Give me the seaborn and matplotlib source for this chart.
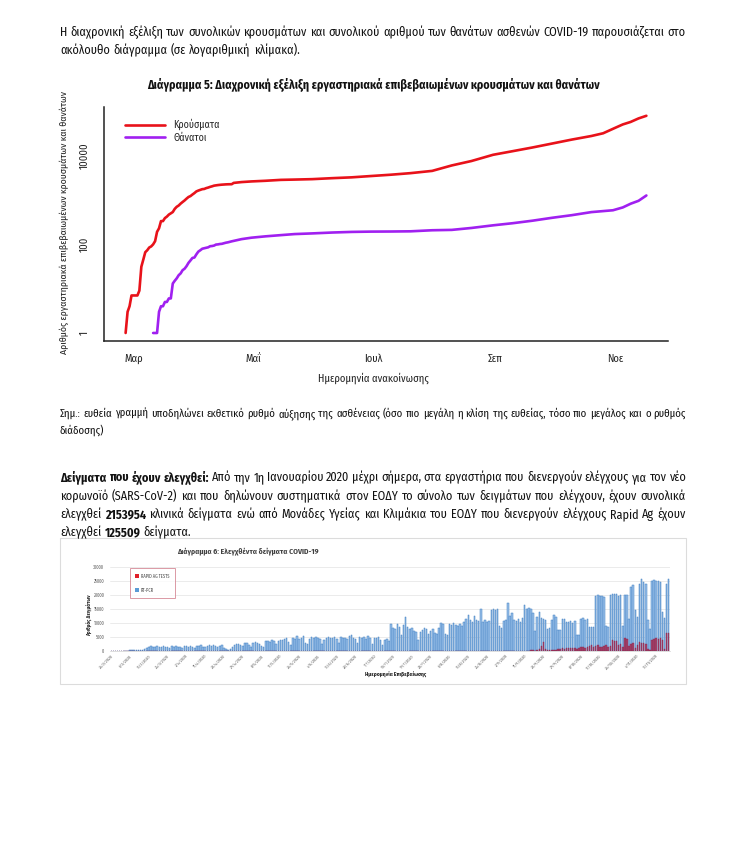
import pandas as pd
import seaborn as sns
from matplotlib import pyplot as plt
from matplotlib import font_manager
from matplotlib.patches import Rectangle, Patch

# ---------------- data ----------------
case_dates = ['2020-02-26', '2020-02-27', '2020-02-28', '2020-02-29', '2020-03-01', '2020-03-02', '2020-03-03',
              '2020-03-04', '2020-03-05', '2020-03-06', '2020-03-07', '2020-03-08', '2020-03-09', '2020-03-10',
              '2020-03-11', '2020-03-12', '2020-03-13', '2020-03-14', '2020-03-15', '2020-03-16', '2020-03-17',
              '2020-03-18', '2020-03-19', '2020-03-20', '2020-03-21', '2020-03-22', '2020-03-23', '2020-03-24',
              '2020-03-25', '2020-03-26', '2020-03-27', '2020-03-28', '2020-03-29', '2020-03-30', '2020-03-31',
              '2020-04-01', '2020-04-02', '2020-04-03', '2020-04-04', '2020-04-05', '2020-04-06', '2020-04-07',
              '2020-04-08', '2020-04-09', '2020-04-10', '2020-04-11', '2020-04-12', '2020-04-13', '2020-04-14',
              '2020-04-15', '2020-04-16', '2020-04-17', '2020-04-18', '2020-04-20', '2020-04-21', '2020-04-25',
              '2020-04-30', '2020-05-07', '2020-05-15', '2020-05-22', '2020-05-31', '2020-06-10', '2020-06-20',
              '2020-06-30', '2020-07-10', '2020-07-20', '2020-07-31', '2020-08-10', '2020-08-20', '2020-08-31',
              '2020-09-10', '2020-09-20', '2020-09-30', '2020-10-10', '2020-10-20', '2020-10-26', '2020-11-01',
              '2020-11-05', '2020-11-09', '2020-11-13', '2020-11-17']
case_values = [1, 3, 4, 7, 7, 7, 7,
               9, 31, 45, 66, 73, 84, 89,
               99, 117, 190, 228, 331, 331, 387,
               418, 464, 495, 530, 624, 695, 743,
               821, 892, 966, 1061, 1156, 1212, 1314,
               1415, 1544, 1613, 1673, 1735, 1755, 1832,
               1884, 1955, 2011, 2081, 2114, 2145, 2170,
               2192, 2207, 2224, 2235, 2245, 2401, 2506,
               2591, 2678, 2810, 2853, 2917, 3068, 3203,
               3432, 3672, 3983, 4477, 5942, 7472, 10317,
               12452, 15062, 18475, 22678, 27334, 31496, 41527,
               49807, 56698, 68001, 78000]

death_dates = ['2020-03-11', '2020-03-12', '2020-03-13', '2020-03-14', '2020-03-15', '2020-03-16', '2020-03-17',
               '2020-03-18', '2020-03-19', '2020-03-20', '2020-03-21', '2020-03-22', '2020-03-23', '2020-03-24',
               '2020-03-25', '2020-03-26', '2020-03-27', '2020-03-28', '2020-03-29', '2020-03-30', '2020-03-31',
               '2020-04-01', '2020-04-02', '2020-04-03', '2020-04-04', '2020-04-05', '2020-04-06', '2020-04-07',
               '2020-04-08', '2020-04-09', '2020-04-10', '2020-04-11', '2020-04-12', '2020-04-13', '2020-04-14',
               '2020-04-15', '2020-04-16', '2020-04-17', '2020-04-18', '2020-04-20', '2020-04-25', '2020-04-30',
               '2020-05-07', '2020-05-15', '2020-05-22', '2020-05-31', '2020-06-10', '2020-06-20', '2020-06-30',
               '2020-07-10', '2020-07-20', '2020-07-31', '2020-08-10', '2020-08-20', '2020-08-31', '2020-09-10',
               '2020-09-20', '2020-09-30', '2020-10-10', '2020-10-20', '2020-10-31', '2020-11-05', '2020-11-09',
               '2020-11-13', '2020-11-17']
death_values = [1, 1, 1, 3, 4, 4, 5,
                5, 6, 6, 13, 15, 17, 20,
                22, 26, 28, 32, 38, 43, 49,
                50, 59, 68, 73, 79, 81, 83,
                85, 90, 91, 93, 98, 99, 101,
                102, 105, 108, 110, 116, 130, 140,
                150, 160, 169, 175, 183, 189, 192,
                193, 195, 206, 210, 232, 266, 297,
                338, 393, 450, 528, 581, 673, 816,
                948, 1250]

month_ticks = ['2020-03-01', '2020-05-01', '2020-07-01', '2020-09-01', '2020-11-01']
month_labels = ['Μαρ', 'Μαΐ', 'Ιουλ', 'Σεπ', 'Νοε']

# daily samples, first day 26/2/2020
first_test_day = '2020-02-26'
pcr_tests = [20, 30, 40, 60, 50, 80, 100,
             120, 150, 180, 200, 250, 300, 280,
             350, 450, 600, 900, 1500, 1700, 1400,
             1600, 1700, 1500, 1300, 1800, 1600, 1400,
             1200, 1700, 1500, 1900, 1600, 1300, 1100,
             1800, 1700, 1500, 1900, 1400, 1200, 1700,
             1800, 2000, 1600, 1300, 1900, 2100, 1800,
             2300, 1900, 1500, 1800, 2200, 1000, 600,
             400, 700, 1500, 2200, 2400, 2600, 2100,
             1900, 2700, 3000, 2300, 1500, 2800, 3200,
             2900, 2600, 1700, 1500, 3400, 3600, 3300,
             3800, 3500, 2500, 3600, 4100, 3800, 4200,
             4500, 3300, 2200, 4600, 4200, 5200, 4300,
             4800, 5400, 3000, 2400, 4200, 4900, 4500,
             5000, 4700, 4300, 2600, 3800, 4600, 4900,
             4700, 4500, 5000, 4200, 3000, 5100, 4600,
             4800, 4300, 5300, 5600, 4700, 4300, 3000,
             5000, 4700, 4900, 4300, 5400, 4500, 2500,
             4800, 4600, 4900, 4000, 2100, 3800, 4300,
             3600, 9500, 8200, 8000, 9800, 8600, 5700,
             9200, 12000, 8400, 7800, 8200, 7200, 6800,
             4000, 6800, 7500, 8300, 7700, 6200, 7100,
             7800, 6600, 5900, 8100, 10000, 9600, 6000,
             5800, 9600, 9300, 10000, 9200, 8800, 9700,
             9000, 10500, 11500, 13000, 11000, 10200, 12500,
             11000, 10800, 15000, 10500, 11000, 10300, 10800,
             14800, 15000, 14600, 15100, 9000, 8200, 10800,
             11000, 17000, 12500, 13500, 11000, 10800, 11500,
             10500, 11700, 16400, 15000, 15200, 14900, 13500,
             7000, 12000, 14000, 11800, 11500, 11000, 8000,
             8200, 11000, 13000, 12200, 7500, 7600, 11500,
             11400, 10500, 10200, 10800, 9900, 10600, 5700,
             5800, 11500, 11800, 11200, 11600, 8700, 8600,
             8700, 19500, 20000, 19800, 19600, 19200, 9000,
             8700, 20000, 20400, 20500, 20200, 19800, 20000,
             9000, 20000, 20100, 11500, 23000, 23500, 14600,
             12000, 24000, 25700, 24500, 23800, 11000, 8000,
             25000, 25400, 25000, 25000, 24800, 14000, 11700,
             24000, 25600]
# rapid antigen tests, aligned to the last days of pcr_tests
rapid_tests = [300, 200, 0, 200, 600, 1800, 3300, 600,
               200, 300, 200, 300, 400,
               600, 700, 900, 800, 1000, 900, 1100, 1000, 1200, 800, 900, 1300, 1400, 1200, 1500, 1900, 2000, 1600,
               1800, 2100, 1500, 1300, 1900, 2000, 1400, 1700,
               3900, 3600, 3400, 2200, 2500, 1500, 4500, 4200, 1800,
               2500, 2800, 1000, 2000, 3300, 2700, 3000, 2400, 600, 500,
               4000, 4300, 4500, 4200, 4500, 4100, 800, 6300, 6300]
test_yticks = [0, 5000, 10000, 15000, 20000, 25000, 30000]

# ---------------- style ----------------
sns.set_theme(style='white')
installed = {f.name for f in font_manager.fontManager.ttflist}
candidates = ['Fira Sans Condensed', 'Roboto Condensed', 'Open Sans Condensed', 'Liberation Sans Narrow', 'Roboto']
body_font = next((c for c in candidates if c in installed), 'Liberation Sans')
plt.rcParams['font.family'] = [body_font, 'Liberation Sans', 'DejaVu Sans']

W, H = 740, 849
fig = plt.figure(figsize=(W / 100, H / 100), dpi=100)
fig.patch.set_facecolor('white')
renderer = fig.canvas.get_renderer()


def fx(x):
    return x / W


def fy(y):
    return 1 - y / H


def words_of(s, weight='normal'):
    return [(w, weight) for w in s.split()]


def measure(words, size):
    widths = []
    for w, wt in words:
        t = fig.text(0, 0, w, fontsize=size, fontweight=wt)
        widths.append(t.get_window_extent(renderer).width)
        t.remove()
    return widths


def fit_size(lines, size, min_gap=3.0, x0=60, x1=686):
    # shrink the font until every justified line fits with a readable gap
    scale = 1.0
    for words in lines:
        need = sum(measure(words, size)) + min_gap * (len(words) - 1)
        scale = min(scale, (x1 - x0) / need)
    return size * scale


def put_line(y, words, size, x0=60, x1=686, justify=True):
    # y is the baseline in pixels from the top
    widths = measure(words, size)
    if justify and len(words) > 1:
        gap = (x1 - x0 - sum(widths)) / (len(words) - 1)
    else:
        gap = size * 100 / 72 * 0.27
    x = x0
    for (w, wt), wd in zip(words, widths):
        fig.text(fx(x), fy(y), w, fontsize=size, fontweight=wt, va='baseline', ha='left', color='#111111')
        x += wd + gap


def sized_text(x, y, s, span, vertical=False, max_size=9.0, **kw):
    # pick the font size that makes the text cover `span` pixels, like the page does
    t = fig.text(fx(x), fy(y), s, fontsize=max_size, rotation=90 if vertical else 0,
                 ha='center', va='center', **kw)
    bb = t.get_window_extent(renderer)
    cur = bb.height if vertical else bb.width
    t.set_fontsize(min(max_size, max_size * span / cur))
    return t


# ---------------- page text ----------------
intro1 = words_of('Η διαχρονική εξέλιξη των συνολικών κρουσμάτων και συνολικού αριθμού των θανάτων ασθενών COVID-19 παρουσιάζεται στο')
intro2 = words_of('ακόλουθο διάγραμμα (σε λογαριθμική κλίμακα).')
note1 = words_of('Σημ.: ευθεία γραμμή υποδηλώνει εκθετικό ρυθμό αύξησης της ασθένειας (όσο πιο μεγάλη η κλίση της ευθείας, τόσο πιο μεγάλος και ο ρυθμός')
note2 = words_of('διάδοσης)')
par1 = words_of('Δείγματα που έχουν ελεγχθεί:', 'bold') + words_of('Από την 1η Ιανουαρίου 2020 μέχρι σήμερα, στα εργαστήρια που διενεργούν ελέγχους για τον νέο')
par2 = words_of('κορωνοϊό (SARS-CoV-2) και που δηλώνουν συστηματικά στον ΕΟΔΥ το σύνολο των δειγμάτων που ελέγχουν, έχουν συνολικά')
par3 = words_of('ελεγχθεί') + words_of('2153954', 'bold') + words_of('κλινικά δείγματα ενώ από Μονάδες Υγείας και Κλιμάκια του ΕΟΔΥ που διενεργούν ελέγχους Rapid Ag έχουν')
par4 = words_of('ελεγχθεί') + words_of('125509', 'bold') + words_of('δείγματα.')

body_size = fit_size([intro1, par1, par2, par3], 9.5)
note_size = fit_size([note1], 8.8)

put_line(36, intro1, body_size)
put_line(54, intro2, body_size, justify=False)
put_line(417, note1, note_size)
put_line(434, note2, note_size, justify=False)
put_line(481, par1, body_size)
put_line(500, par2, body_size)
put_line(518, par3, body_size)
put_line(536, par4, body_size, justify=False)

# ---------------- chart 5: cumulative cases and deaths ----------------
df_cases = pd.DataFrame({'date': pd.to_datetime(case_dates), 'value': case_values, 'series': 'Κρούσματα'})
df_deaths = pd.DataFrame({'date': pd.to_datetime(death_dates), 'value': death_values, 'series': 'Θάνατοι'})
df_cum = pd.concat([df_cases, df_deaths], ignore_index=True)

sized_text(373, 85, 'Διάγραμμα 5: Διαχρονική εξέλιξη εργαστηριακά επιβεβαιωμένων κρουσμάτων και θανάτων',
           451, fontweight='bold', color='#111111')

ax1 = fig.add_axes([fx(104), fy(341), (668 - 104) / W, (341 - 107) / H])
sns.lineplot(data=df_cum, x='date', y='value', hue='series', ax=ax1,
             palette={'Κρούσματα': '#e8121a', 'Θάνατοι': '#a020f0'}, linewidth=1.9)
ax1.set_yscale('log')
ax1.set_ylim(0.66, 123000)
ax1.set_xlim(pd.Timestamp('2020-02-15'), pd.Timestamp('2020-11-28'))
ax1.set_yticks([1, 100, 10000])
ax1.set_yticklabels(['1', '100', '10000'], rotation=90, va='center')
ax1.minorticks_off()
ax1.set_xticks(pd.to_datetime(month_ticks))
ax1.set_xticklabels(month_labels)
ax1.tick_params(axis='both', direction='out', length=5, width=0.9, labelsize=7.6, color='#222222', labelcolor='#222222')
ax1.tick_params(axis='y', pad=5)
ax1.tick_params(axis='x', pad=4)
for side in ['top', 'right']:
    ax1.spines[side].set_visible(False)
for side in ['left', 'bottom']:
    ax1.spines[side].set_color('#222222')
    ax1.spines[side].set_linewidth(1.1)
ax1.set_xlabel('')
ax1.set_ylabel('')
ax1.legend(loc='upper left', bbox_to_anchor=(fx(116), fy(110)), bbox_transform=fig.transFigure,
           frameon=False, fontsize=7.2, handlelength=4.0, handletextpad=0.8, labelspacing=0.2, title=None)
sized_text(64, 222, 'Αριθμός εργαστηριακά επιβεβαιωμένων κρουσμάτων και θανάτων', 265, vertical=True,
           color='#222222')
fig.text(fx(373), fy(378), 'Ημερομηνία ανακοίνωσης', ha='center', va='center', fontsize=7.6, color='#222222')

# ---------------- chart 6: tested samples ----------------
n_days = len(pcr_tests)
test_dates = pd.date_range(first_test_day, periods=n_days, freq='D')
rapid_full = [0] * (n_days - len(rapid_tests)) + rapid_tests
df_tests = pd.DataFrame({'day': range(n_days), 'pcr': pcr_tests, 'rapid': rapid_full})
test_labels = [f'{d.day}/{d.month}/{d.year}' for d in test_dates]

fig.patches.append(Rectangle((fx(60), fy(684)), (686 - 60) / W, (684 - 538) / H, transform=fig.transFigure,
                             facecolor='white', edgecolor='#dcdcdc', linewidth=0.8, zorder=-1))

ax2 = fig.add_axes([fx(110), fy(651), 560 / W, 84 / H])
ax2.set_zorder(2)
ax2.patch.set_alpha(0)
sns.barplot(data=df_tests, x='day', y='pcr', ax=ax2, color='#9cc2ea', edgecolor='#3d7cc0',
            linewidth=0.35, width=0.72, saturation=1)
sns.barplot(data=df_tests, x='day', y='rapid', ax=ax2, color='#a8325a', edgecolor='#8a1f45',
            linewidth=0.3, width=0.72, saturation=1, alpha=0.85)
ax2.set_xlim(-0.6, n_days - 0.4)
ax2.set_ylim(0, 30000)
ax2.set_yticks(test_yticks)
ax2.set_yticklabels([str(v) for v in test_yticks])
ax2.grid(axis='y', color='#e3e3e3', linewidth=0.5)
ax2.set_axisbelow(True)
tick_pos = list(range(0, n_days, 9))
ax2.set_xticks(tick_pos)
ax2.set_xticklabels([test_labels[i] for i in tick_pos], rotation=45, ha='right', rotation_mode='anchor')
ax2.tick_params(axis='x', labelsize=3.0, length=0, pad=2, labelcolor='#595959')
ax2.tick_params(axis='y', labelsize=3.2, length=0, pad=4, labelcolor='#595959')
for side in ['top', 'right', 'left']:
    ax2.spines[side].set_visible(False)
ax2.spines['bottom'].set_color('#d0d0d0')
ax2.spines['bottom'].set_linewidth(0.5)
ax2.set_xlabel('')
ax2.set_ylabel('')

sized_text(248, 551, 'Διάγραμμα 6: Ελεγχθέντα δείγματα COVID-19', 142, fontweight='bold', color='#404040')
sized_text(90, 615, 'Αριθμός Δειγμάτων', 42, vertical=True, fontweight='bold', color='#262626')
sized_text(396, 675, 'Ημερομηνία Επιβεβαίωσης', 62, fontweight='bold', color='#262626')

handles = [Patch(facecolor='#e0202a', edgecolor='none'), Patch(facecolor='#5b9bd5', edgecolor='none')]
leg = fig.legend(handles, ['RAPID AG TESTS', 'RT-PCR'], loc='upper left',
                 bbox_to_anchor=(fx(130), fy(568)), bbox_transform=fig.transFigure,
                 fontsize=3.2, frameon=True, fancybox=False, handlelength=0.9, handleheight=0.9,
                 handletextpad=0.3, labelspacing=2.0, borderpad=1.2, borderaxespad=0)
leg.get_frame().set_edgecolor('#d3808e')
leg.get_frame().set_linewidth(0.7)
for t in leg.get_texts():
    t.set_color('#404040')

plt.savefig('out.png', dpi=100, facecolor='white')
